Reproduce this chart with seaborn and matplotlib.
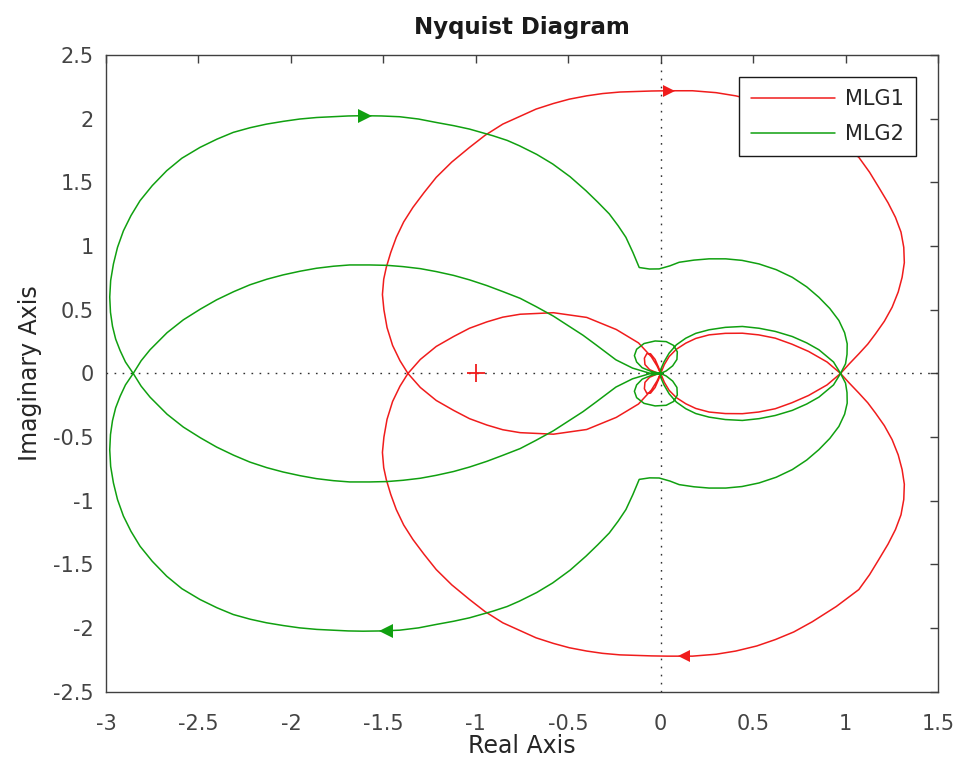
import numpy as np
import pandas as pd
import matplotlib
matplotlib.use("Agg")
import matplotlib.pyplot as plt
import seaborn as sns

# ---- data: one frequency branch per system; the other
# branch is its complex conjugate, traversed in reverse ----
mlg1_re = [0.0, -0.012, -0.03, -0.055, -0.075, -0.088, -0.085, -0.06, -0.025, 0.0,
           -0.02, -0.05, -0.12, -0.24, -0.40, -0.58, -0.76, -0.854, -0.94, -1.034,
           -1.12, -1.214, -1.30, -1.367,
           -1.41, -1.45, -1.48, -1.497, -1.505, -1.498, -1.484, -1.46, -1.43,
           -1.39, -1.34, -1.28, -1.214, -1.13, -1.034, -0.95, -0.854, -0.76,
           -0.674, -0.58, -0.494, -0.40, -0.314, -0.22, -0.134, -0.05,
           0.037, 0.172, 0.30, 0.406,
           0.52, 0.62, 0.72, 0.82, 0.95, 1.072, 1.13, 1.18, 1.23, 1.27, 1.30, 1.315,
           1.318, 1.306, 1.285, 1.252, 1.21, 1.162, 1.12, 1.072, 1.02, 0.973,
           0.9, 0.80, 0.71, 0.62, 0.53, 0.442, 0.35, 0.262, 0.19, 0.136, 0.085,
           0.046, 0.02, 0.0]
mlg1_im = [0.0, 0.05, 0.11, 0.155, 0.155, 0.12, 0.07, 0.03, 0.008, 0.0,
           -0.06, -0.13, -0.24, -0.345, -0.44, -0.477, -0.465, -0.442, -0.405, -0.355,
           -0.29, -0.212, -0.11, 0.0,
           0.1, 0.22, 0.36, 0.5, 0.62, 0.74, 0.834, 0.95, 1.069,
           1.19, 1.304, 1.42, 1.54, 1.66, 1.775, 1.87, 1.958, 2.02,
           2.076, 2.12, 2.154, 2.18, 2.198, 2.21, 2.214, 2.218,
           2.22, 2.22, 2.205, 2.18,
           2.14, 2.09, 2.03, 1.95, 1.83, 1.697, 1.58, 1.461, 1.34, 1.226, 1.11, 0.99,
           0.87, 0.755, 0.64, 0.52, 0.41, 0.311, 0.23, 0.154, 0.075, 0.0,
           -0.09, -0.173, -0.23, -0.277, -0.303, -0.316, -0.315, -0.303, -0.275,
           -0.238, -0.19, -0.133, -0.07, 0.0]

mlg2_re = [0.0, -0.05, -0.10, -0.13, -0.142, -0.13, -0.09, -0.03, 0.03, 0.07, 0.09,
           0.088, 0.065, 0.03, 0.0,
           -0.062, -0.152, -0.242, -0.35, -0.42, -0.494, -0.58, -0.674, -0.76,
           -0.854, -0.94, -1.034, -1.12, -1.214, -1.30, -1.394, -1.48, -1.574,
           -1.682, -1.77, -1.862, -1.95, -2.042, -2.13, -2.222, -2.31, -2.402,
           -2.49, -2.582, -2.67, -2.762, -2.81, -2.853,
           -2.895, -2.924, -2.948, -2.965, -2.976, -2.98, -2.975, -2.96, -2.938,
           -2.906, -2.865, -2.816, -2.75, -2.672, -2.59, -2.492, -2.40, -2.312,
           -2.22, -2.132, -2.04, -1.952, -1.86, -1.772, -1.69, -1.61, -1.51,
           -1.412, -1.31, -1.214, -1.12, -1.034, -0.908, -0.83, -0.764, -0.67,
           -0.584, -0.49, -0.404, -0.34, -0.278, -0.23, -0.188, -0.15, -0.116,
           -0.06, -0.008, 0.05, 0.10, 0.18, 0.262, 0.352, 0.44, 0.532, 0.625,
           0.712, 0.79, 0.856, 0.915, 0.964, 0.995, 1.009, 1.008, 1.0, 0.973,
           0.935, 0.856, 0.79, 0.712, 0.62, 0.532, 0.442, 0.35, 0.262, 0.19,
           0.136, 0.085, 0.046, 0.018, 0.0, 0.0]
mlg2_im = [0.0, 0.015, 0.045, 0.09, 0.14, 0.19, 0.235, 0.255, 0.25, 0.22, 0.17,
           0.11, 0.06, 0.02, 0.0,
           -0.003, -0.042, -0.107, -0.225, -0.30, -0.369, -0.45, -0.525, -0.59,
           -0.643, -0.69, -0.735, -0.77, -0.8, -0.823, -0.839, -0.849, -0.852,
           -0.852, -0.842, -0.826, -0.803, -0.774, -0.74, -0.696, -0.642, -0.578,
           -0.505, -0.421, -0.32, -0.186, -0.1, 0.0,
           0.09, 0.18, 0.27, 0.37, 0.48, 0.6, 0.73, 0.86, 0.99,
           1.12, 1.24, 1.357, 1.475, 1.592, 1.69, 1.775, 1.84, 1.893,
           1.93, 1.958, 1.98, 1.998, 2.01, 2.016, 2.022, 2.024, 2.022,
           2.016, 1.998, 1.971, 1.946, 1.919, 1.867, 1.83, 1.788, 1.72,
           1.645, 1.545, 1.435, 1.345, 1.253, 1.16, 1.069, 0.95, 0.832,
           0.82, 0.821, 0.845, 0.873, 0.89, 0.9, 0.9, 0.888, 0.86, 0.815,
           0.755, 0.68, 0.598, 0.51, 0.416, 0.32, 0.233, 0.15, 0.076, 0.0,
           -0.09, -0.186, -0.24, -0.29, -0.33, -0.355, -0.369, -0.362, -0.343, -0.315,
           -0.277, -0.225, -0.16, -0.09, -0.03, 0.0]

series_names = ["MLG1", "MLG2"]
series_colors = ["#f01c1c", "#10a010"]

# arrow locations (re, im, direction)
mlg1_arrows = [(0.045, 2.22, ">"), (0.127, -2.22, "<")]
mlg2_arrows = [(-1.6, 2.024, ">"), (-1.484, -2.021, "<")]
critical_point = (-1.0, 0.0)


def full_curve(re, im):
    re = np.asarray(re, float)
    im = np.asarray(im, float)
    # branch followed by conjugate branch (negative frequencies)
    return (np.concatenate([re, re[::-1]]),
            np.concatenate([im, -im[::-1]]))


frames = []
for name, re, im in [("MLG1", mlg1_re, mlg1_im), ("MLG2", mlg2_re, mlg2_im)]:
    x, y = full_curve(re, im)
    frames.append(pd.DataFrame({"re": x, "im": y, "series": name,
                                "idx": np.arange(len(x))}))
df = pd.concat(frames, ignore_index=True)

sns.set_style("white")
plt.rcParams["font.family"] = ["DejaVu Sans"]
plt.rcParams["axes.unicode_minus"] = False

fig = plt.figure(figsize=(9.64, 7.76), dpi=100)
ax = fig.add_axes([0.1100, 0.1085, 0.8630, 0.8205])

# zero lines
dot = (0, (1.2, 4.6))
ax.axhline(0, color="#303030", lw=1.0, ls=dot, zorder=1)
ax.axvline(0, color="#303030", lw=1.0, ls=dot, zorder=1)

sns.lineplot(data=df, x="re", y="im", hue="series", sort=False,
             estimator=None, units="series", palette=series_colors,
             hue_order=series_names, lw=1.1, ax=ax, legend=False, zorder=3)

for (xa, ya, m) in mlg1_arrows:
    ax.plot(xa, ya, marker=m, color=series_colors[0], ms=8, mew=0, zorder=4)
for (xa, ya, m) in mlg2_arrows:
    ax.plot(xa, ya, marker=m, color=series_colors[1], ms=10, mew=0, zorder=4)

ax.plot(*critical_point, marker="+", color=series_colors[0], ms=13, mew=1.3,
        zorder=4)

ax.set_xlim(-3, 1.5)
ax.set_ylim(-2.5, 2.5)
ax.set_xticks(np.arange(-3, 1.51, 0.5))
ax.set_yticks(np.arange(-2.5, 2.51, 0.5))
ax.set_xticklabels(["-3", "-2.5", "-2", "-1.5", "-1", "-0.5", "0", "0.5", "1", "1.5"])
ax.set_yticklabels(["-2.5", "-2", "-1.5", "-1", "-0.5", "0", "0.5", "1", "1.5", "2", "2.5"])

spine_c = "#404040"
for s in ax.spines.values():
    s.set_visible(True)
    s.set_color(spine_c)
    s.set_linewidth(1.0)
ax.tick_params(axis="both", which="major", direction="in", length=6,
               width=1.0, color=spine_c, labelcolor="#444444",
               labelsize=15, top=True, right=True)
ax.tick_params(axis="x", pad=16)
ax.tick_params(axis="y", pad=9)

ax.set_xlabel("Real Axis", fontsize=17, color="#262626", labelpad=0)
ax.set_ylabel("Imaginary Axis", fontsize=17, color="#262626", labelpad=8)
ax.set_title("Nyquist Diagram", fontsize=16.5, fontweight="bold",
             color="#1a1a1a", pad=15)

handles = [plt.Line2D([], [], color=c, lw=1.1) for c in series_colors]
leg = ax.legend(handles, series_names, loc="upper right",
                bbox_to_anchor=(0.974, 0.966), fontsize=15,
                frameon=True, fancybox=False, framealpha=1.0,
                edgecolor="#1a1a1a", handlelength=4.0, handletextpad=0.5,
                borderpad=0.6, labelspacing=0.7, borderaxespad=0.0)
leg.get_frame().set_linewidth(1.0)
leg.set_zorder(10)

fig.savefig("out.png", dpi=100, facecolor="white")
